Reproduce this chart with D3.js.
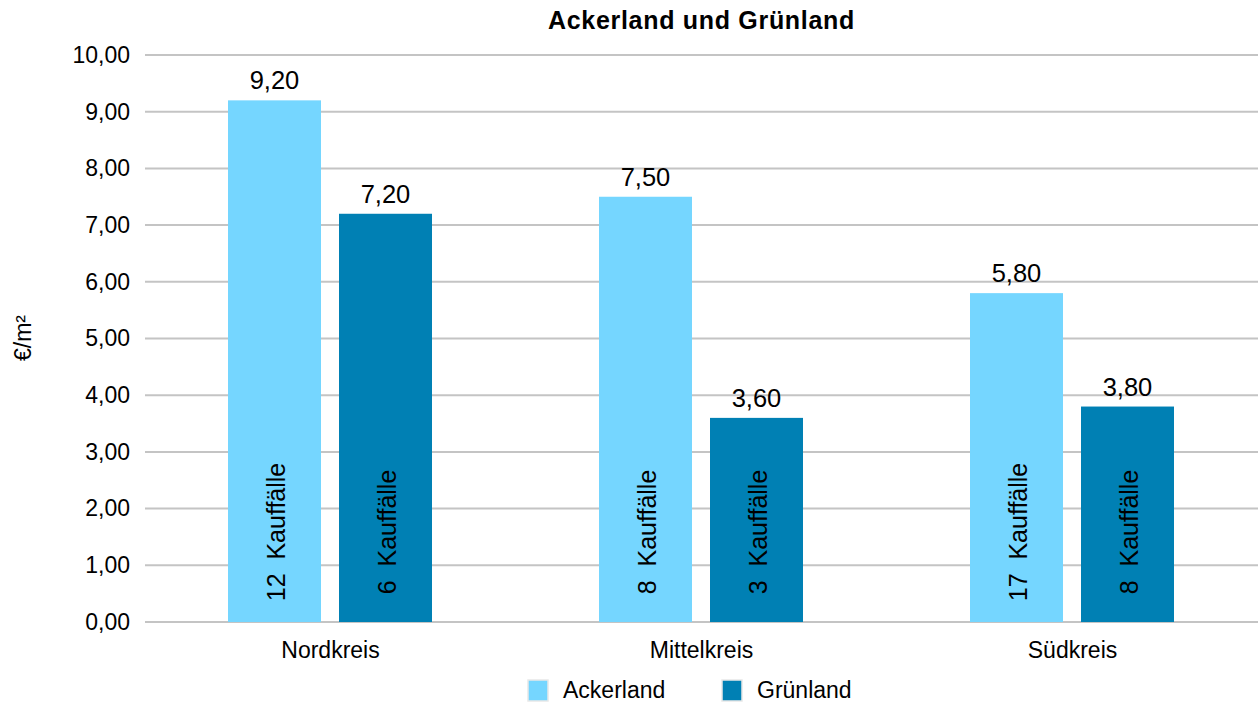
<!DOCTYPE html>
<html><head><meta charset="utf-8">
<script src="https://cdn.jsdelivr.net/npm/d3@7"></script>
<style>body{margin:0;background:#fff}svg{display:block;font-family:"Liberation Sans",Arial,sans-serif}</style>
</head><body><svg id="c" width="1259" height="705"></svg>
<script>
const categories = ["Nordkreis", "Mittelkreis", "Südkreis"];
const seriesNames = ["Ackerland", "Grünland"];
const ackerland = [9.20, 7.50, 5.80];
const gruenland = [7.20, 3.60, 3.80];
const ackerlandCounts = [12, 8, 17];
const gruenlandCounts = [6, 3, 8];
const yTicks = [0,1,2,3,4,5,6,7,8,9,10];
const colors = ["#75d6ff", "#0080b4"];

(function(){
const svg = d3.select("#c");
const mLeft = 145, mRight = 1258, mTop = 55, mBottom = 622;
const x = d3.scaleBand().domain(categories).range([mLeft, mRight]).padding(0);
const y = d3.scaleLinear().domain([0, 10]).range([mBottom, mTop]);
const fmt = v => d3.format(".2f")(v).replace(".", ",");
const FF = "Liberation Sans, Arial, sans-serif";

// grid
svg.append("g").selectAll("line").data(yTicks).join("line")
  .attr("x1", mLeft).attr("x2", mRight)
  .attr("y1", d => y(d)).attr("y2", d => y(d))
  .attr("stroke", "#c4c4c4").attr("stroke-width", 2);

// y axis labels
const yAxis = d3.axisLeft(y).tickValues(yTicks).tickFormat(fmt).tickSize(0).tickPadding(15);
const ya = svg.append("g").attr("transform", `translate(${mLeft},0)`).call(yAxis);
ya.select(".domain").remove();
ya.attr("font-size", 23).attr("font-family", FF);
ya.selectAll("text").attr("fill", "#000");

// x axis labels
const xAxis = d3.axisBottom(x).tickSize(0).tickPadding(20);
const xa = svg.append("g").attr("transform", `translate(0,${mBottom})`).call(xAxis);
xa.select(".domain").remove();
xa.attr("font-size", 23).attr("font-family", FF);
xa.selectAll("text").attr("fill", "#000");

const inner = d3.scaleBand().domain(seriesNames).range([83, 287]).paddingInner(18/111);
const series = [ackerland, gruenland];
const counts = [ackerlandCounts, gruenlandCounts];

seriesNames.forEach((s, si) => {
  const g = svg.append("g");
  const data = categories.map((c, i) => ({c, v: series[si][i], n: counts[si][i]}));
  g.selectAll("rect").data(data).join("rect")
    .attr("x", d => x(d.c) + inner(s))
    .attr("width", inner.bandwidth())
    .attr("y", d => y(d.v))
    .attr("height", d => y(0) - y(d.v))
    .attr("fill", colors[si]);
  g.selectAll("text.val").data(data).join("text").attr("class", "val")
    .attr("x", d => x(d.c) + inner(s) + inner.bandwidth()/2)
    .attr("y", d => y(d.v) - 11)
    .attr("text-anchor", "middle").attr("font-size", 25.5).attr("fill", "#000")
    .text(d => fmt(d.v));
  g.selectAll("text.cnt").data(data).join("text").attr("class", "cnt")
    .attr("transform", d => `translate(${x(d.c) + inner(s) + inner.bandwidth()/2 + 10},${y(0) - 90}) rotate(-90)`)
    .attr("text-anchor", "middle").attr("font-size", 25).attr("fill", "#000")
    .style("white-space", "pre")
    .text(d => d.n + "  Kauffälle");
});

// title
svg.append("text").attr("x", (mLeft + mRight)/2).attr("y", 29)
  .attr("text-anchor", "middle").attr("font-size", 25).attr("letter-spacing", 0.7)
  .attr("font-weight", "bold").attr("fill", "#000")
  .text("Ackerland und Grünland");

// y label
svg.append("text").attr("transform", "translate(31,338) rotate(-90)")
  .attr("text-anchor", "middle").attr("font-size", 23).attr("fill", "#000").text("€/m²");

// legend
const legX = [528, 722];
const lg = svg.append("g");
seriesNames.forEach((s, i) => {
  lg.append("rect").attr("x", legX[i]).attr("y", 680).attr("width", 20).attr("height", 21)
    .attr("fill", colors[i]).attr("stroke", "#e8e8e8").attr("stroke-width", 1.5);
  lg.append("text").attr("x", legX[i] + 35).attr("y", 698).attr("font-size", 23).attr("fill", "#000").text(s);
});
})();
</script></body></html>
